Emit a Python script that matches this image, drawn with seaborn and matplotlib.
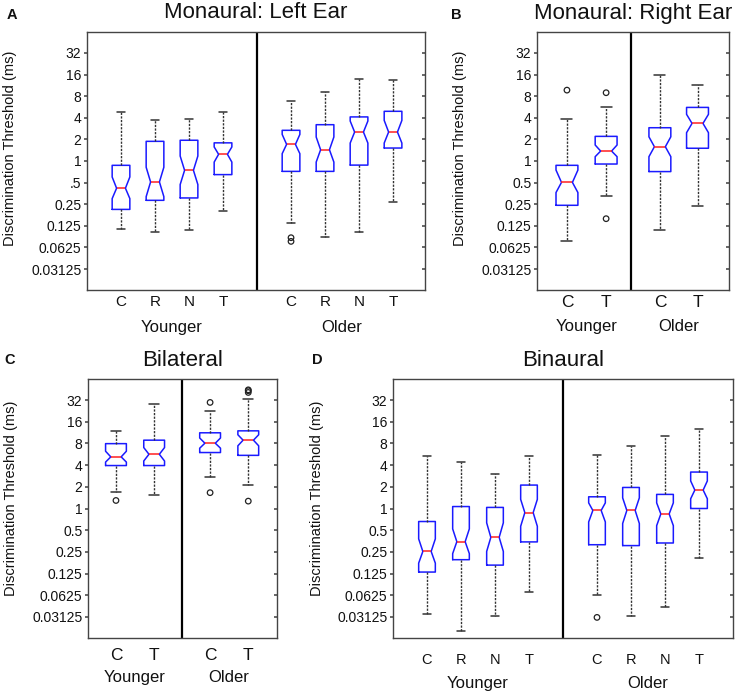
import matplotlib
matplotlib.use("Agg")
import matplotlib.pyplot as plt
import matplotlib.transforms as mtransforms
import seaborn as sns
import pandas as pd

# thresholds are stored as log2(ms), the way the figure is drawn
groups = ["Younger", "Older"]
cats_four = ["C", "R", "N", "T"]
cats_two = ["C", "T"]
tick_exp = [-5, -4, -3, -2, -1, 0, 1, 2, 3, 4, 5]
tick_labels = ["0.03125", "0.0625", "0.125", "0.25", "0.5", "1", "2", "4", "8", "16", "32"]
tick_labels_a = ["0.03125", "0.0625", "0.125", "0.25", ".5", "1", "2", "4", "8", "16", "32"]

# A: Monaural left ear (Younger C,R,N,T then Older C,R,N,T)
left_whislo = [-3.16, -3.30, -3.19, -2.31, -2.85, -3.53, -3.29, -1.90]
left_q1 = [-2.24, -1.82, -1.71, -0.63, -0.48, -0.48, -0.19, 0.60]
left_med = [-1.26, -0.97, -0.43, 0.31, 0.77, 0.52, 1.34, 1.34]
left_q3 = [-0.20, 0.91, 0.96, 0.84, 1.42, 1.68, 2.04, 2.30]
left_whishi = [2.25, 1.90, 1.96, 2.29, 2.78, 3.19, 3.78, 3.75]
left_cilo = [-1.74, -1.65, -1.09, -0.05, 0.34, -0.05, 0.83, 0.83]
left_cihi = [-0.74, -0.29, 0.23, 0.65, 1.23, 1.11, 1.85, 1.88]
left_fliers = [[], [], [], [], [-3.55, -3.72], [], [], []]

# B: Monaural right ear (Younger C,T then Older C,T)
right_whislo = [-3.68, -1.60, -3.19, -2.08]
right_q1 = [-2.05, -0.14, -0.49, 0.59]
right_med = [-0.99, 0.46, 0.66, 1.74]
right_q3 = [-0.20, 1.14, 1.54, 2.48]
right_whishi = [1.93, 2.51, 3.96, 3.53]
right_cilo = [-1.46, 0.20, 0.20, 1.31]
right_cihi = [-0.42, 0.74, 1.12, 2.16]
right_fliers = [[3.28], [3.16, -2.67], [], []]

# C: Bilateral
bilat_whislo = [0.76, 0.62, 1.45, 1.10]
bilat_q1 = [1.98, 1.98, 2.58, 2.45]
bilat_med = [2.38, 2.50, 3.01, 3.15]
bilat_q3 = [2.99, 3.15, 3.49, 3.58]
bilat_whishi = [3.55, 4.81, 4.51, 5.03]
bilat_cilo = [2.14, 2.19, 2.78, 2.89]
bilat_cihi = [2.64, 2.81, 3.25, 3.40]
bilat_fliers = [[0.37], [], [4.89, 0.73], [5.35, 5.43, 5.47, 0.34]]

# D: Binaural
binau_whislo = [-4.86, -5.65, -4.95, -3.86, -3.98, -4.94, -4.52, -2.28]
binau_q1 = [-2.93, -2.36, -2.61, -1.54, -1.67, -1.71, -1.59, 0.00]
binau_med = [-1.98, -1.53, -1.33, -0.19, -0.09, -0.09, -0.25, 0.85]
binau_q3 = [-0.60, 0.09, 0.05, 1.08, 0.54, 0.97, 0.65, 1.68]
binau_whishi = [2.41, 2.15, 1.60, 2.41, 2.45, 2.89, 3.33, 3.66]
binau_cilo = [-2.52, -2.08, -1.98, -0.82, -0.62, -0.69, -0.79, 0.45]
binau_cihi = [-1.40, -0.94, -0.66, 0.42, 0.26, 0.49, 0.26, 1.27]
binau_fliers = [[], [], [], [], [-5.02], [], [], []]

sns.set_theme(style="white")
plt.rcParams["font.family"] = ["Liberation Sans", "DejaVu Sans"]

W, H = 737, 697
fig = plt.figure(figsize=(W / 100, H / 100), dpi=100)


def px_axes(l, t, r, b):
    return fig.add_axes([l / W, 1 - b / H, (r - l) / W, (b - t) / H])


def make_stats(whislo, q1, med, q3, whishi, cilo, cihi):
    return [dict(whislo=a, q1=b, med=c, q3=d, whishi=e, cilo=f, cihi=g, fliers=[])
            for a, b, c, d, e, f, g in zip(whislo, q1, med, q3, whishi, cilo, cihi)]


def draw_panel(ax, stats, fliers, cats, pos, width, divider, xmax, ylabels,
               title, cat_y, grp_y, cat_size, h_px):
    ax.bxp(stats, positions=pos, widths=width, shownotches=True, showfliers=False,
           manage_ticks=False,
           boxprops=dict(color="#1a1aff", lw=1.1),
           medianprops=dict(color="#ff2020", lw=1.1),
           whiskerprops=dict(color="#333333", lw=1.0, ls=(0, (1.6, 1.0))),
           capprops=dict(color="#333333", lw=1.1))

    # outliers
    fx, fy = [], []
    for p, fl in zip(pos, fliers):
        fx += [p] * len(fl)
        fy += fl
    if fx:
        df = pd.DataFrame({"x": fx, "y": fy})
        sns.scatterplot(data=df, x="x", y="y", ax=ax, s=16, marker="o",
                        facecolor="none", edgecolor="#222222", linewidth=0.9)

    ax.axvline(divider, color="black", lw=1.6)
    ax.set_xlim(0, xmax)
    ax.set_ylim(-5.97, 5.97)
    ax.set_yticks(tick_exp, ylabels)
    ax.set_xticks([])
    ax.set_xlabel("")
    ax.set_ylabel("")
    # left ticks point out, right ticks point in
    ax.tick_params(axis="y", direction="out", length=2.5, left=True, right=False,
                   labelsize=10, color="#555555", labelcolor="#111111", pad=1.5)
    sec = ax.secondary_yaxis("right")
    sec.set_yticks(tick_exp)
    sec.tick_params(axis="y", direction="in", length=2.5, color="#555555",
                    labelright=False)
    sec.spines["right"].set_visible(False)
    for s in ax.spines.values():
        s.set_color("#444444")
        s.set_linewidth(1.0)

    tr = mtransforms.blended_transform_factory(ax.transData, ax.transAxes)
    n = len(cats)
    for p, c in zip(pos, cats * 2):
        ax.text(p, cat_y, c, transform=tr, ha="center", va="center",
                fontsize=cat_size, color="#111111")
    for g, k in zip(groups, [0, 1]):
        mid = (pos[k * n] + pos[k * n + n - 1]) / 2
        ax.text(mid, grp_y, g, transform=tr, ha="center", va="center",
                fontsize=12, color="#111111")
    ax.text(0.5, 1 + 19 / h_px, title, transform=ax.transAxes, ha="center",
            va="center", fontsize=16, color="#111111")


# panel A
ax_a = px_axes(87, 32, 425, 290)
draw_panel(ax_a,
           make_stats(left_whislo, left_q1, left_med, left_q3, left_whishi, left_cilo, left_cihi),
           left_fliers, cats_four, [1, 2, 3, 4, 6, 7, 8, 9], 0.52, 5, 9.94,
           tick_labels_a, "Monaural: Left Ear", -0.047, -0.145, 11, 258)

# panel B
ax_b = px_axes(537, 32, 729, 290)
draw_panel(ax_b,
           make_stats(right_whislo, right_q1, right_med, right_q3, right_whishi, right_cilo, right_cihi),
           right_fliers, cats_two, [0.78, 1.8, 3.2, 4.18], 0.57, 2.45, 5,
           tick_labels, "Monaural: Right Ear", -0.047, -0.143, 12.5, 258)

# panel C
ax_c = px_axes(88, 379, 277, 638)
draw_panel(ax_c,
           make_stats(bilat_whislo, bilat_q1, bilat_med, bilat_q3, bilat_whishi, bilat_cilo, bilat_cihi),
           bilat_fliers, cats_two, [0.74, 1.75, 3.23, 4.24], 0.55, 2.49, 5,
           tick_labels, "Bilateral", -0.066, -0.154, 12.5, 259)

# panel D
ax_d = px_axes(393, 379, 733, 638)
draw_panel(ax_d,
           make_stats(binau_whislo, binau_q1, binau_med, binau_q3, binau_whishi, binau_cilo, binau_cihi),
           binau_fliers, cats_four, [1, 2, 3, 4, 6, 7, 8, 9], 0.49, 5, 10,
           tick_labels, "Binaural", -0.085, -0.174, 10.5, 259)

# y labels and panel letters
for x, y in [(10, 148), (460, 148), (11, 498), (317, 498)]:
    fig.text(x / W, 1 - y / H, "Discrimination Threshold (ms)", rotation=90,
             ha="center", va="center", fontsize=10.5, color="#111111")
for x, y, s in [(12, 15, "A"), (456, 15, "B"), (10, 360, "C"), (317, 360, "D")]:
    fig.text(x / W, 1 - y / H, s, ha="center", va="center", fontsize=10.5,
             fontweight="bold", color="#111111")

fig.savefig("out.png", dpi=100, facecolor="white")
